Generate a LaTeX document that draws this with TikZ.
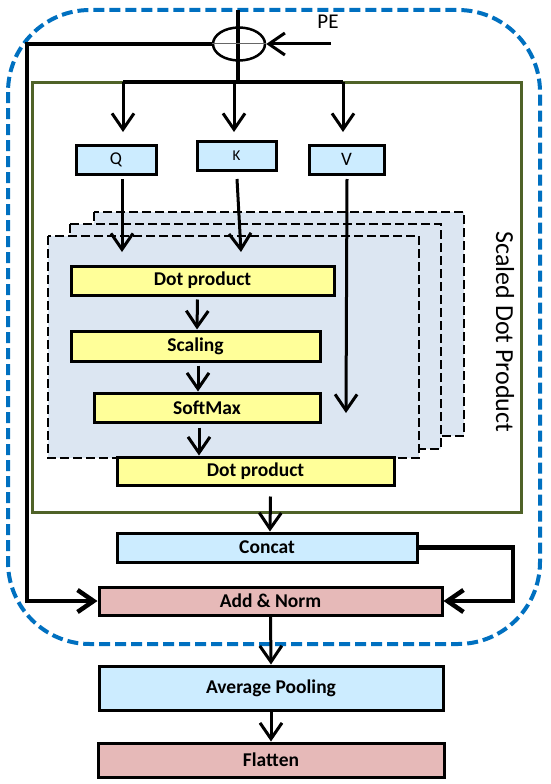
\documentclass[tikz,border=0pt]{standalone}
\usepackage{fontspec}
\setmainfont{Carlito}
\usetikzlibrary{arrows.meta,shapes.geometric}
\definecolor{offblue}{RGB}{0,112,192}
\definecolor{olivegrn}{RGB}{79,98,40}
\definecolor{lblue}{RGB}{204,236,255}
\definecolor{lyellow}{RGB}{255,255,153}
\definecolor{lpink}{RGB}{230,185,184}
\definecolor{stackfill}{RGB}{220,230,242}
\begin{document}
\begin{tikzpicture}[x=1pt,y=-1pt,
  box/.style={draw, line width=3pt, inner sep=0pt, font=\fontsize{19.5}{22}\selectfont\bfseries},
  ybox/.style={box, fill=lyellow},
  bbox/.style={box, fill=lblue},
  pbox/.style={box, fill=lpink},
  arr/.style={line width=3pt, -{Straight Barb[length=16pt,width=22pt]}},
  thickarr/.style={line width=4.5pt, -{Straight Barb[length=16pt,width=22pt]}},
  thickline/.style={line width=4.5pt},
  stackbox/.style={draw, line width=2.5pt, dash pattern=on 9pt off 4pt, fill=stackfill},
  smallfont/.style={font=\fontsize{18}{20}\selectfont}]
\useasboundingbox (0,0) rectangle (550,784);
% containers
\draw[offblue, line width=4pt, dash pattern=on 11pt off 5pt, rounded corners=82pt] (8,10) rectangle (540,644);
\draw[olivegrn, line width=3pt] (32,82) rectangle (521,512);
\draw[stackbox] (94,212) rectangle (464,436);
\draw[stackbox] (70,224) rectangle (441,449);
\draw[stackbox] (48,236) rectangle (419,458);
\node[rotate=-90, font=\fontsize{26}{28}\selectfont] (sdp) at (505,332) {Scaled Dot Product};
% nodes
\node[bbox, minimum width=80pt, minimum height=29pt, smallfont] (q) at (116,159.5) {Q};
\node[bbox, minimum width=79pt, minimum height=29pt, font=\fontsize{15}{18}\selectfont] (k) at (236.5,155.5) {K};
\node[bbox, minimum width=75pt, minimum height=29pt, font=\fontsize{19}{20}\selectfont] (v) at (346.5,159.5) {V};
\node[ybox, minimum width=263pt, minimum height=29pt] (dp1) at (202.5,280.5) {Dot product};
\node[ybox, minimum width=249pt, minimum height=30pt] (sc) at (195.5,346) {Scaling};
\node[ybox, minimum width=226pt, minimum height=29pt] (sm) at (207,407.5) {SoftMax};
\node[ybox, minimum width=277pt, minimum height=28pt] (dp2) at (255.5,471) {Dot product};
\node[bbox, minimum width=300pt, minimum height=29pt] (cc) at (267,547.5) {Concat};
\node[pbox, minimum width=343pt, minimum height=28pt] (an) at (270.5,601) {Add \& Norm};
\node[bbox, minimum width=344pt, minimum height=44pt] (ap) at (271,688) {Average Pooling};
\node[pbox, minimum width=346pt, minimum height=34pt] (fl) at (271,760) {Flatten};
\node[ellipse, draw, line width=2.5pt, minimum width=52pt, minimum height=33pt, inner sep=0pt] (sum) at (239,44) {};
\node[font=\fontsize{21}{22}\selectfont] (pe) at (328,22) {PE};
% coordinates
\coordinate (top) at (238,10);
\coordinate (busc) at (238,82);
\coordinate (busl) at (123,82);
\coordinate (busk) at (234,82);
\coordinate (busr) at (343,82);
\coordinate (qa) at (123,132);
\coordinate (ka) at (234,132);
\coordinate (va) at (343,132);
\coordinate (qs) at (122,179);
\coordinate (qe) at (122,252);
\coordinate (ks) at (237,179);
\coordinate (ke) at (241,252);
\coordinate (vs) at (347,179);
\coordinate (ve) at (346,413);
\coordinate (pe0) at (331,44);
\coordinate (lc) at (27,601);
\coordinate (rc) at (513,601);
% connectors
\draw[thickline] (top) -- (busc);
\draw[thickline] (busl) -- (busr);
\draw[line width=1pt, black!60] (sum.west) -- (sum.east);
\draw[arr] (busl) -- (qa);
\draw[arr] (busk) -- (ka);
\draw[arr] (busr) -- (va);
\draw[arr] (pe0) -- (sum.east);
\draw[arr] (qs) -- (qe);
\draw[arr] (ks) -- (ke);
\draw[arr] (vs) -- (ve);
\draw[arr] ([xshift=-5pt,yshift=-3pt]dp1.south) -- ([xshift=1.5pt]sc.north);
\draw[arr] ([xshift=-9pt,yshift=-3pt]sm.north |- sc.south) -- ([xshift=-9pt]sm.north);
\draw[arr] ([xshift=-8pt,yshift=-4pt]sm.south) -- ([xshift=-8pt]sm.south |- dp2.north);
\draw[arr] ([xshift=15pt,yshift=-10pt]dp2.south) -- ([xshift=3pt]cc.north);
\draw[thickarr] (sum.west) -| (lc) -- (an.west);
\draw[thickarr] (cc.east) -| (rc) -- (an.east);
\draw[arr] (an.south) -- (ap.north);
\draw[arr] (ap.south) -- (fl.north);
\end{tikzpicture}
\end{document}
